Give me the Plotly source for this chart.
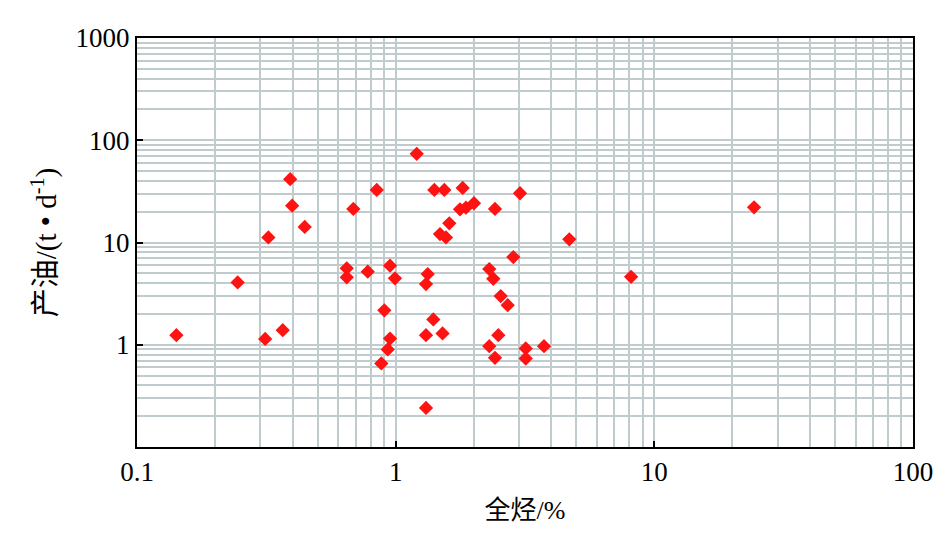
import plotly.graph_objects as go

# 全烃 (%) and 产油 (t/d)
total_hc = [0.142, 0.245, 0.313, 0.322, 0.366, 0.391, 0.398, 0.445, 0.647, 0.647,
            0.686, 0.780, 0.845, 0.880, 0.904, 0.932, 0.951, 0.951, 0.994, 1.206,
            1.310, 1.330, 1.310, 1.310, 1.398, 1.518, 1.411, 1.542, 1.484, 1.565,
            1.612, 1.773, 1.870, 1.816, 2.008, 2.301, 2.385, 2.421, 2.494, 2.301,
            2.421, 2.547, 2.711, 2.850, 3.025, 3.183, 3.183, 3.745, 4.69, 8.13, 24.3]
oil_prod = [1.24, 4.07, 1.14, 11.2, 1.39, 41.6, 22.9, 14.2, 5.59, 4.56,
            21.3, 5.18, 32.7, 0.656, 2.17, 0.90, 1.15, 5.93, 4.46, 73.6,
            3.92, 4.91, 1.24, 0.241, 1.77, 1.29, 32.7, 32.7, 12.1, 11.2,
            15.4, 21.1, 21.9, 34.2, 24.2, 5.50, 4.42, 21.3, 1.24, 0.968,
            0.745, 2.99, 2.44, 7.21, 30.3, 0.92, 0.734, 0.968, 10.75, 4.62, 22.1]

x_ticks = [0.1, 1, 10, 100]
x_labels = ["0.1", "1", "10", "100"]
y_ticks = [0.1, 1, 10, 100, 1000]
y_labels = ["", "1", "10", "100", "1000"]

x_minor = [m * 10.0 ** e for e in range(-1, 2) for m in range(2, 10)]
y_minor = [m * 10.0 ** e for e in range(-1, 3) for m in range(2, 10)]

grid_color = "#bfcbcd"
font_fam = "'Liberation Serif', 'Noto Sans CJK SC', serif"

fig = go.Figure()
fig.add_trace(go.Scatter(
    x=total_hc, y=oil_prod, mode="markers",
    marker=dict(symbol="diamond", size=11, color="#ff1212", line=dict(width=0)),
    showlegend=False,
))

axis_common = dict(
    type="log", showline=True, linecolor="black", linewidth=2, mirror=True,
    ticks="inside", ticklen=6, tickwidth=1.5, tickcolor="black",
    showgrid=True, gridcolor=grid_color, gridwidth=1.5,
    tickfont=dict(family=font_fam, size=27, color="black"),
    zeroline=False,
)

fig.update_xaxes(
    **axis_common,
    range=[-1, 2], tickmode="array", tickvals=x_ticks, ticktext=x_labels,
    minor=dict(tickmode="array", tickvals=x_minor, showgrid=True,
               gridcolor=grid_color, gridwidth=1.5, ticks=""),
    title=dict(text="全烃/%", font=dict(family=font_fam, size=26, color="black"),
               standoff=14),
)
fig.update_yaxes(
    **axis_common,
    range=[-1, 3], tickmode="array", tickvals=y_ticks, ticktext=y_labels,
    minor=dict(tickmode="array", tickvals=y_minor, showgrid=True,
               gridcolor=grid_color, gridwidth=1.5, ticks=""),
    title=dict(text="产油/(t • d<sup>-1</sup>)",
               font=dict(family=font_fam, size=29, color="black"), standoff=10),
)

fig.update_layout(
    width=945, height=555,
    margin=dict(l=137, r=32, t=38, b=108),
    paper_bgcolor="white", plot_bgcolor="white",
)

fig.write_html("out.html", config={"displayModeBar": False},
               post_script="document.body.style.margin='0';")
